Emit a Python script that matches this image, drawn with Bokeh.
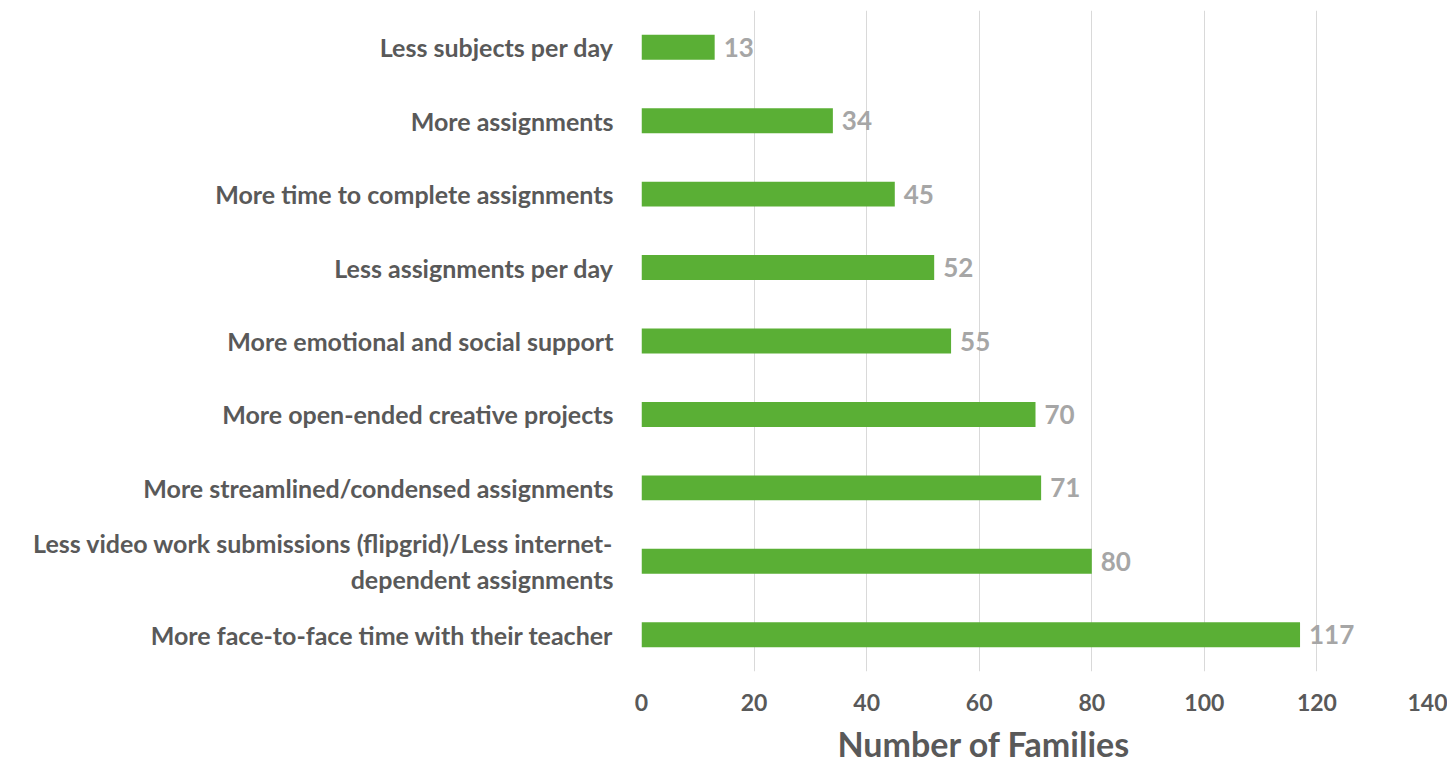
from bokeh.plotting import figure
from bokeh.models import ColumnDataSource, LabelSet, FactorRange, Range1d, Title, FixedTicker
from bokeh.core.properties import value
from bokeh.embed import file_html
from bokeh.resources import INLINE

categories = [
    "Less subjects per day",
    "More assignments",
    "More time to complete assignments",
    "Less assignments per day",
    "More emotional and social support",
    "More open-ended creative projects",
    "More streamlined/condensed assignments",
    "Less video work submissions (flipgrid)/Less internet-\ndependent assignments",
    "More face-to-face time with their teacher",
]
values = [13, 34, 45, 52, 55, 70, 71, 80, 117]
x_ticks = [0, 20, 40, 60, 80, 100, 120, 140]
x_title = "Number of Families"

FONT = "Lato"
DARK = "#595959"

source = ColumnDataSource(dict(cat=categories, val=values, txt=[str(v) for v in values]))

p = figure(
    width=1447, height=770,
    y_range=FactorRange(factors=list(reversed(categories))),
    x_range=Range1d(0, 140),
    output_backend="svg", toolbar_location=None,
    min_border_left=641, min_border_right=18, min_border_top=10, min_border_bottom=20,
)
p.outline_line_color = None
p.background_fill_color = "white"

p.hbar(y="cat", right="val", height=0.34, source=source, fill_color="#5aaf35", line_color=None)

labels = LabelSet(x="val", y="cat", text="txt", source=source, x_offset=9,
                  text_font=value(FONT), text_font_style="bold", text_font_size="26px",
                  text_color="#a6a6a6", text_baseline="middle")
p.add_layout(labels)

p.xgrid.grid_line_color = "#d9d9d9"
p.xgrid.grid_line_width = 1
p.ygrid.grid_line_color = None

p.xaxis.ticker = FixedTicker(ticks=x_ticks)
p.xaxis.axis_line_color = None
p.xaxis.major_tick_line_color = None
p.xaxis.minor_tick_line_color = None
p.xaxis.major_tick_out = 0
p.xaxis.major_label_standoff = 22
p.xaxis.major_label_text_font = FONT
p.xaxis.major_label_text_font_style = "bold"
p.xaxis.major_label_text_font_size = "23px"
p.xaxis.major_label_text_color = DARK

p.yaxis.axis_line_color = None
p.yaxis.major_tick_line_color = None
p.yaxis.minor_tick_line_color = None
p.yaxis.major_tick_out = 0
p.yaxis.major_label_standoff = 28
p.yaxis.major_label_text_font = FONT
p.yaxis.major_label_text_font_style = "bold"
p.yaxis.major_label_text_font_size = "25px"
p.yaxis.major_label_text_color = DARK

t = Title(text=x_title, align="left", offset=196, text_font=FONT, text_font_style="bold",
          text_font_size="34px", text_color=DARK, standoff=14)
p.add_layout(t, "below")

open("out.html", "w").write(file_html(p, INLINE))
